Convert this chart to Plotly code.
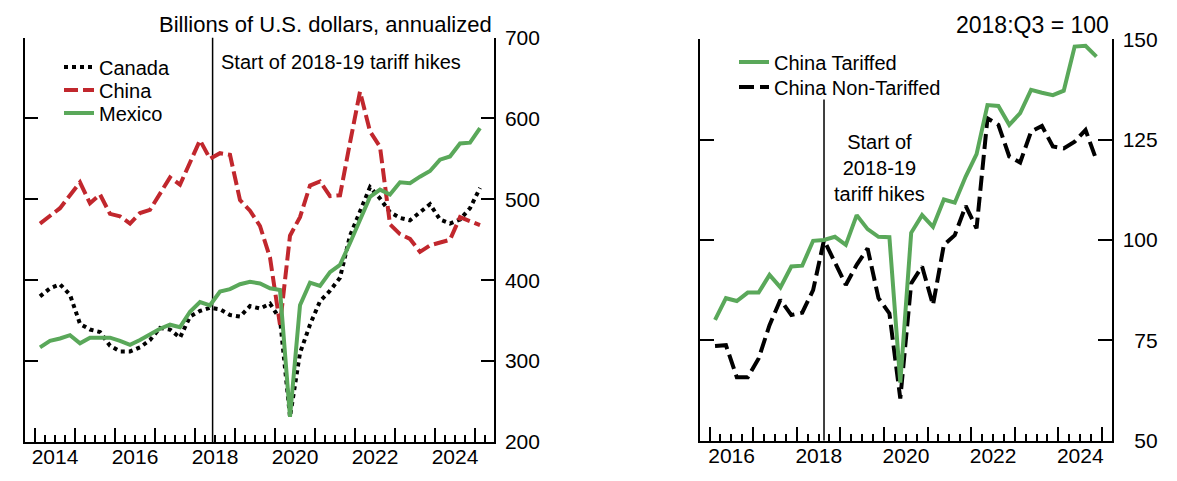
import plotly.graph_objects as go

FONT = "Liberation Sans, Arial, Helvetica, sans-serif"
W, H = 1177, 481

# ---------------- Left panel: imports by partner, billions of U.S. dollars, annualized
left_quarters = [f"{y}Q{q}" for y in range(2014, 2026) for q in (1, 2, 3, 4)][:45]  # 2014Q1 .. 2025Q1
canada = [380, 390, 395, 382, 346, 339, 336, 319, 312, 312,
          317, 326, 341, 339, 329, 355, 362, 366, 364, 357,
          355, 368, 365, 371, 352, 231, 310, 345, 374, 387,
          403, 455, 485, 515, 501, 484, 477, 474, 484, 494,
          475, 470, 475, 489, 514]
china = [470, 480, 489, 505, 521, 495, 506, 482, 479, 470,
         483, 487, 508, 527, 518, 545, 573, 550, 557, 555,
         499, 486, 467, 428, 345, 455, 478, 517, 522, 504,
         505, 570, 633, 584, 565, 469, 457, 451, 435, 443,
         447, 450, 478, 473, 468]
mexico = [317, 325, 328, 332, 322, 329, 329, 329, 325, 320,
          326, 333, 340, 345, 342, 361, 373, 369, 386, 389,
          395, 398, 396, 390, 388, 231, 369, 397, 393, 410,
          419, 446, 474, 503, 512, 506, 521, 520, 528, 535,
          549, 553, 569, 570, 588]
left_year_ticks = list(range(2014, 2026))
left_year_labels = [str(y) if y % 2 == 0 else "" for y in left_year_ticks]
left_yticks = [200, 300, 400, 500, 600, 700]
left_ylabels = ["200", "300", "400", "500", "600", "700"]

# ---------------- Right panel: China imports index, 2018:Q3 = 100
right_quarters = [f"{y}Q{q}" for y in range(2016, 2025) for q in (1, 2, 3, 4)]  # 2016Q1 .. 2024Q4
china_tariffed = [80.1, 85.5, 84.8, 86.9, 86.9, 91.3, 88.2, 93.4, 93.6, 99.8,
                  100.0, 100.8, 98.8, 106.2, 102.7, 100.8, 100.7, 64.5, 101.8, 106.2,
                  103.3, 110.1, 109.3, 115.8, 121.4, 133.6, 133.4, 128.7, 131.6, 137.4,
                  136.7, 136.1, 137.2, 148.2, 148.4, 145.7]
china_nontariffed = [73.6, 73.8, 65.8, 65.8, 70.5, 78.8, 85.1, 81.3, 81.9, 87.5,
                     100.0, 94.2, 88.8, 93.8, 97.9, 85.5, 81.7, 60.5, 89.2, 93.4,
                     83.8, 98.8, 101.2, 108.5, 102.9, 130.3, 128.7, 120.8, 119.3, 127.0,
                     128.4, 123.3, 122.8, 124.5, 127.4, 119.9]
right_year_ticks = list(range(2016, 2026))
right_year_labels = [str(y) if y % 2 == 0 else "" for y in right_year_ticks]
right_yticks = [50, 75, 100, 125, 150]
# figure space (U+2007) pads two-digit labels so they sit right-aligned like the original
right_ylabels = ["\u200750", "\u200775", "100", "125", "150"]

TARIFF_LINE_LEFT = 2018.44
TARIFF_LINE_RIGHT = 2018.625


def qpos(label):
    return int(label[:4]) + (int(label[-1]) - 0.5) / 4.0


left_x = [qpos(q) for q in left_quarters]
right_x = [qpos(q) for q in right_quarters]

RED = "#c1272d"
GREEN = "#5aa85a"

fig = go.Figure()
fig.add_trace(go.Scatter(x=left_x, y=canada, mode="lines", name="Canada",
                         line=dict(color="black", width=4, dash="4px,4px"),
                         xaxis="x", yaxis="y", legend="legend"))
fig.add_trace(go.Scatter(x=left_x, y=china, mode="lines", name="China",
                         line=dict(color=RED, width=4, dash="14px,5px"),
                         xaxis="x", yaxis="y", legend="legend2"))
fig.add_trace(go.Scatter(x=left_x, y=mexico, mode="lines", name="Mexico",
                         line=dict(color=GREEN, width=4),
                         xaxis="x", yaxis="y", legend="legend3"))
fig.add_trace(go.Scatter(x=right_x, y=china_nontariffed, mode="lines", name="China Non-Tariffed",
                         line=dict(color="black", width=4, dash="15px,6px"),
                         xaxis="x2", yaxis="y2", legend="legend5"))
fig.add_trace(go.Scatter(x=right_x, y=china_tariffed, mode="lines", name="China Tariffed",
                         line=dict(color=GREEN, width=4),
                         xaxis="x2", yaxis="y2", legend="legend4"))

axis_common = dict(showline=True, linecolor="black", linewidth=1.5, ticks="inside",
                   tickcolor="black", tickwidth=1.5, showgrid=False, zeroline=False,
                   tickfont=dict(family=FONT, size=21, color="black"), automargin=False)

xminor = dict(ticks="inside", ticklen=7, tickwidth=1.5, tickcolor="black", dtick=0.25, showgrid=False)

fig.update_layout(
    width=W, height=H, autosize=False,
    margin=dict(l=0, r=0, t=0, b=0),
    paper_bgcolor="white", plot_bgcolor="white",
    font=dict(family=FONT, size=20, color="black"),
    xaxis=dict(domain=[25 / W, 494 / W], range=[2013.75, 2025.475], anchor="y",
               tickmode="array", tickvals=left_year_ticks, ticktext=left_year_labels,
               ticklen=14, ticklabelshift=20, ticklabelstandoff=-5,
               minor=dict(xminor, tick0=2014), **axis_common),
    yaxis=dict(domain=[1 - 442 / H, 1 - 37.5 / H], range=[200, 700], anchor="x",
               side="right", mirror="ticks", tickmode="array", tickvals=left_yticks,
               ticktext=left_ylabels, ticklen=13, ticklabelstandoff=5, **axis_common),
    xaxis2=dict(domain=[700 / W, 1111.7 / W], range=[2015.78, 2025.225], anchor="y2",
                tickmode="array", tickvals=right_year_ticks, ticktext=right_year_labels,
                ticklen=14, ticklabelshift=22, ticklabelstandoff=-5,
                minor=dict(xminor, tick0=2016), **axis_common),
    yaxis2=dict(domain=[1 - 440.7 / H, 1 - 39.3 / H], range=[50, 150], anchor="x2",
                side="right", mirror="ticks", tickmode="array", tickvals=right_yticks,
                ticktext=right_ylabels, ticklen=14, ticklabelstandoff=5, **axis_common),
    showlegend=True,
)

leg = dict(font=dict(family=FONT, size=20, color="black"), bgcolor="rgba(0,0,0,0)",
           borderwidth=0, xanchor="left", yanchor="middle", xref="paper", yref="paper",
           itemwidth=30, tracegroupgap=0)
fig.update_layout(
    legend=dict(leg, x=59 / W, y=1 - 67 / H),
    legend2=dict(leg, x=59 / W, y=1 - 90 / H),
    legend3=dict(leg, x=59 / W, y=1 - 113 / H),
    legend4=dict(leg, x=734 / W, y=1 - 62 / H),
    legend5=dict(leg, x=734 / W, y=1 - 87 / H),
)

fig.add_annotation(text="Billions of U.S. dollars, annualized", xref="paper", yref="paper",
                   x=494 / W, y=1 - 24 / H, xanchor="right", yanchor="middle", showarrow=False,
                   font=dict(family=FONT, size=22, color="black"))
fig.add_annotation(text="2018:Q3 = 100", xref="paper", yref="paper",
                   x=1111 / W, y=1 - 25 / H, xanchor="right", yanchor="middle", showarrow=False,
                   font=dict(family=FONT, size=23, color="black"))
fig.add_annotation(text="Start of 2018-19 tariff hikes", xref="paper", yref="paper",
                   x=219 / W, y=1 - 62 / H, xanchor="left", yanchor="middle", showarrow=False,
                   font=dict(family=FONT, size=20, color="black"))
fig.add_annotation(text="Start of<br>2018-19<br>tariff hikes", xref="paper", yref="paper",
                   x=879 / W, y=1 - 168 / H, xanchor="center", yanchor="middle", showarrow=False,
                   align="center", font=dict(family=FONT, size=20, color="black"))

fig.add_shape(type="line", xref="x", yref="y", x0=TARIFF_LINE_LEFT, x1=TARIFF_LINE_LEFT,
              y0=200, y1=700, line=dict(color="black", width=1.5), layer="below")
fig.add_shape(type="line", xref="x2", yref="y2", x0=TARIFF_LINE_RIGHT, x1=TARIFF_LINE_RIGHT,
              y0=50, y1=135, line=dict(color="black", width=1.5), layer="below")

fig.write_html("out.html")
